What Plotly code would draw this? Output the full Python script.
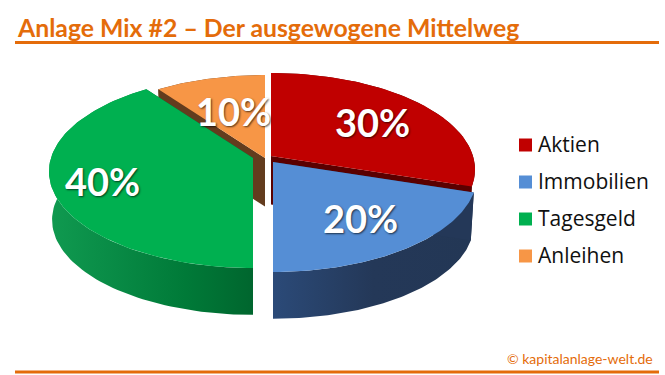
import numpy as np
import plotly.graph_objects as go

categories = ["Aktien", "Immobilien", "Tagesgeld", "Anleihen"]
values = [30, 20, 40, 10]
title_text = "Anlage Mix #2 – Der ausgewogene Mittelweg"
credit_text = "© kapitalanlage-welt.de"

top_colors = ["#C00000", "#558ED5", "#00B050", "#F79646"]
cut_colors = ["#5A0000", "#243858", "#006B30", "#633C1E"]
wall_ramps = [
    ["#5A0000", "#5A0000"],
    ["#2B4A78", "#243858", "#233755"],
    ["#109A50", "#088A45", "#007A38", "#00662E"],
    ["#633C1E", "#633C1E"],
]
# exploded slice apex, in pixels of the 665x375 canvas
apex_x = [271, 273, 253, 265]
apex_y = [156, 162, 158, 158]
label_x = [372, 360, 102, 233]
label_y = [122, 218, 181, 111]
legend_y = [144, 181, 218, 255]
ORANGE = "#E46C0A"
A, B, K, DEPTH, LOWER = 202.0, 94.6, 0.14, 48.5, 0.985
DRAW_ORDER = [3, 0, 1, 2]


def project(theta, cx, cy, scale=1.0, dy=0.0):
    u, v = np.cos(theta), np.sin(theta)
    d = 1 + K * u
    return cx + scale * A * v / d, cy + dy + scale * B * (-u) / d


fracs = np.array(values, dtype=float) / sum(values)
ends = np.cumsum(fracs) * 2 * np.pi
starts = ends - fracs * 2 * np.pi

fig = go.Figure()
for i in DRAW_ORDER:
    th = np.linspace(starts[i], ends[i], 90)
    cx, cy = apex_x[i], apex_y[i]
    tx, ty = project(th, cx, cy)
    bx, by = project(th, cx, cy, LOWER, DEPTH)
    # outer wall with horizontal shading
    n = len(wall_ramps[i]) - 1
    fig.add_trace(go.Scatter(
        x=np.r_[tx, bx[::-1]], y=np.r_[ty, by[::-1]], mode="lines", fill="toself",
        line=dict(width=0), hoverinfo="skip", showlegend=False,
        fillgradient=dict(type="horizontal",
                          colorscale=[[j / n, c] for j, c in enumerate(wall_ramps[i])]),
    ))
    # radial cut face at the slice's end edges
    for edge in (0, -1):
        fig.add_trace(go.Scatter(
            x=[cx, tx[edge], bx[edge], cx], y=[cy, ty[edge], by[edge], cy + DEPTH],
            mode="lines", fill="toself", fillcolor=cut_colors[i],
            line=dict(width=0), hoverinfo="skip", showlegend=False,
        ))
    # top face
    fig.add_trace(go.Scatter(
        x=np.r_[cx, tx, cx], y=np.r_[cy, ty, cy], mode="lines", fill="toself",
        fillcolor=top_colors[i], line=dict(width=0), name=categories[i],
        hoverinfo="name", showlegend=False,
    ))

# legend: colour square with its category name
for name, color, y in zip(categories, top_colors, legend_y):
    fig.add_trace(go.Scatter(
        x=[525.5], y=[y + 1], mode="markers", hoverinfo="skip", showlegend=False,
        marker=dict(symbol="square", size=13, color=color, line=dict(width=0)),
    ))

annotations = []
for v, x, y in zip(values, label_x, label_y):
    annotations.append(dict(
        x=x, y=y, xref="x", yref="y", text=f"{v}%", showarrow=False,
        font=dict(family="Lato", size=38, color="white", weight="bold",
                  shadow="1px 1px 2px rgba(0,0,0,0.65)"),
    ))
for name, y in zip(categories, legend_y):
    annotations.append(dict(
        x=536, y=y, xref="x", yref="y", text=name, showarrow=False, xanchor="left",
        font=dict(family="Open Sans", size=21, color="#101010"),
    ))
annotations.append(dict(
    x=15, y=27, xref="x", yref="y", text=title_text, showarrow=False, xanchor="left",
    font=dict(family="Lato", size=24.8, color=ORANGE, weight="bold"),
))
annotations.append(dict(
    x=655, y=358, xref="x", yref="y", text=credit_text, showarrow=False, xanchor="right",
    font=dict(family="Lato", size=14, color=ORANGE),
))

shapes = [
    dict(type="line", xref="x", yref="y", x0=15, x1=659, y0=y, y1=y,
         line=dict(color=ORANGE, width=3))
    for y in (42.5, 372)
]

fig.update_layout(
    width=665, height=375, margin=dict(l=0, r=0, t=0, b=0),
    paper_bgcolor="white", plot_bgcolor="white", showlegend=False,
    xaxis=dict(range=[0, 665], visible=False, fixedrange=True),
    yaxis=dict(range=[375, 0], visible=False, fixedrange=True),
    annotations=annotations, shapes=shapes,
)
fig.write_html("out.html", config={"displayModeBar": False},
               post_script="document.body.style.margin='0';document.body.style.overflow='hidden';")
